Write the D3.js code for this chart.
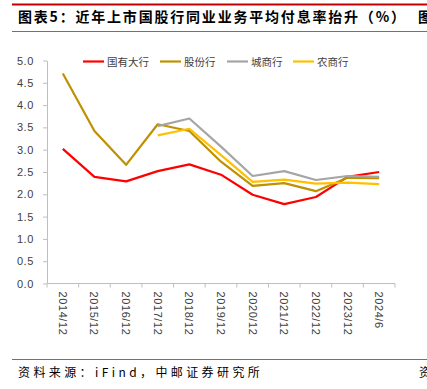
<!DOCTYPE html>
<html><head><meta charset="utf-8">
<script src="https://cdn.jsdelivr.net/npm/d3@7/dist/d3.min.js"></script>
<style>body{margin:0;background:#fff;}svg{display:block;}</style>
</head><body>
<script>
const categories = ["2014/12","2015/12","2016/12","2017/12","2018/12","2019/12","2020/12","2021/12","2022/12","2023/12","2024/6"];
const seriesNames = ["国有大行","股份行","城商行","农商行"];
const bigBanks   = [3.02,2.39,2.29,2.52,2.67,2.44,1.99,1.78,1.94,2.39,2.50];
const jointStock = [4.71,3.42,2.66,3.57,3.42,2.73,2.19,2.25,2.07,2.37,2.36];
const cityBanks  = [null,null,null,3.53,3.70,3.07,2.41,2.52,2.32,2.41,2.39];
const ruralBanks = [null,null,null,3.32,3.47,2.88,2.28,2.33,2.24,2.26,2.23];
const yTicks = [0,0.5,1.0,1.5,2.0,2.5,3.0,3.5,4.0,4.5,5.0];
const colors = ["#FF0000","#BF9000","#A5A5A5","#FFC000"];
const seriesData = [bigBanks, jointStock, cityBanks, ruralBanks];

const W=427,H=389;
const svg=d3.select("body").append("svg").attr("width",W).attr("height",H);
const cjk='"Noto Sans CJK SC", "Noto Sans", sans-serif';

// header
svg.append("line").attr("x1",12).attr("x2",427).attr("y1",4.5).attr("y2",4.5).attr("stroke","#C00000").attr("stroke-width",2);
svg.append("text").attr("x",18).attr("y",22).attr("font-family",cjk).attr("font-size",14).attr("font-weight","bold").attr("fill","#000")
  .attr("letter-spacing",1.8)
  .text("图表5：近年上市国股行同业业务平均付息率抬升（%）");
svg.append("text").attr("x",418).attr("y",22).attr("font-family",cjk).attr("font-size",14).attr("font-weight","bold").attr("fill","#000").text("图");
svg.append("line").attr("x1",12).attr("x2",427).attr("y1",31.5).attr("y2",31.5).attr("stroke","#C0504D").attr("stroke-width",1);

// footer
svg.append("line").attr("x1",12).attr("x2",427).attr("y1",359.5).attr("y2",359.5).attr("stroke","#C0504D").attr("stroke-width",1);
svg.append("text").attr("x",18).attr("y",377).attr("font-family",cjk).attr("font-size",12).attr("fill","#000")
  .attr("letter-spacing",3.4)
  .text("资料来源：iFind，中邮证券研究所");
svg.append("text").attr("x",419).attr("y",377).attr("font-family",cjk).attr("font-size",12).attr("fill","#000").text("资");

// scales
const x=d3.scaleBand().domain(categories).range([47,395]);
const y=d3.scaleLinear().domain([0,5]).range([283.5,60.5]);

// y axis
const yAxis=svg.append("g").attr("transform","translate(47,0)")
  .call(d3.axisLeft(y).tickValues(yTicks).tickFormat(d3.format(".1f")).tickSize(4).tickSizeOuter(0));
yAxis.select(".domain").attr("stroke","#BFBFBF");
yAxis.selectAll(".tick line").attr("stroke","#BFBFBF");
yAxis.selectAll("text").attr("font-family","Liberation Sans, Arial, sans-serif").attr("font-size",11).attr("fill","#404040").attr("x",-13).attr("letter-spacing",0.6);

// x axis
const xg=svg.append("g").attr("transform","translate(0,283.5)");
xg.append("line").attr("x1",47).attr("x2",395).attr("stroke","#BFBFBF");
const bounds=categories.map(c=>x(c)).concat([x.range()[1]]);
xg.selectAll(".tk").data(bounds).join("line").attr("x1",d=>d).attr("x2",d=>d).attr("y1",0).attr("y2",4).attr("stroke","#BFBFBF");
xg.selectAll(".lbl").data(categories).join("text")
  .attr("transform",d=>`translate(${x(d)+x.bandwidth()/2-4},8) rotate(90)`)
  .attr("font-family","Liberation Sans, Arial, sans-serif").attr("font-size",11).attr("fill","#404040")
  .attr("letter-spacing",0.6)
  .text(d=>d);

// lines
const line=d3.line().defined(d=>d.v!=null).x(d=>x(d.c)+x.bandwidth()/2).y(d=>y(d.v));
seriesData.forEach((s,i)=>{
  svg.append("path").datum(categories.map((c,j)=>({c,v:s[j]})))
    .attr("d",line).attr("fill","none").attr("stroke",colors[i]).attr("stroke-width",2.2).attr("stroke-linejoin","round");
});

// legend
const legX=[83,160,227,293];
seriesNames.forEach((n,i)=>{
  svg.append("line").attr("x1",legX[i]).attr("x2",legX[i]+21).attr("y1",61.5).attr("y2",61.5).attr("stroke",colors[i]).attr("stroke-width",2.2);
  svg.append("text").attr("x",legX[i]+24).attr("y",65.5).attr("font-family",cjk).attr("font-size",10.5).attr("fill","#404040").text(n);
});
</script>
</body></html>
